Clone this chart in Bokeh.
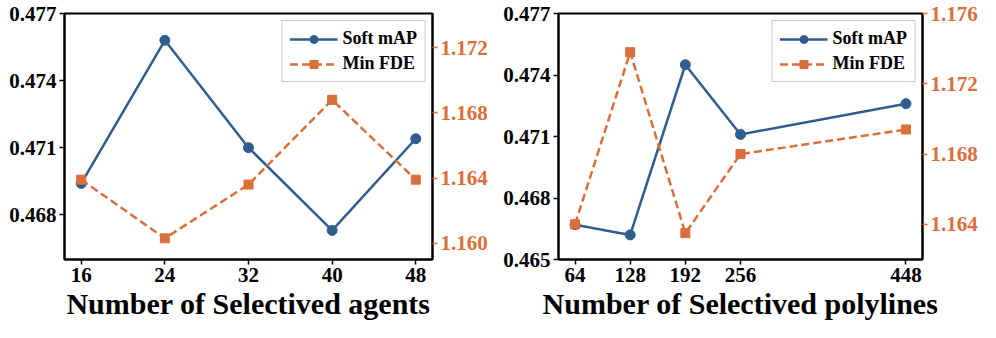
from bokeh.plotting import figure
from bokeh.models import Range1d, LinearAxis, FixedTicker, Legend, LegendItem, PrintfTickFormatter
from bokeh.layouts import row
from bokeh.embed import file_html
from bokeh.resources import INLINE

# ---- data ----
agents = [16, 24, 32, 40, 48]
agents_map = [0.4694, 0.4758, 0.4710, 0.4673, 0.4714]
agents_fde = [1.1639, 1.1603, 1.1636, 1.1688, 1.1639]

polylines = [64, 128, 192, 256, 448]
poly_map = [0.4667, 0.4662, 0.4745, 0.4711, 0.4726]
poly_fde = [1.1640, 1.1738, 1.1635, 1.1680, 1.1694]

agents_xticks = [16, 24, 32, 40, 48]
agents_lticks = [0.468, 0.471, 0.474, 0.477]
agents_rticks = [1.160, 1.164, 1.168, 1.172]
poly_xticks = [64, 128, 192, 256, 448]
poly_lticks = [0.465, 0.468, 0.471, 0.474, 0.477]
poly_rticks = [1.164, 1.168, 1.172, 1.176]

BLUE = "#2F5E8E"
ORANGE = "#D96F3A"
FONT = "Liberation Serif"


def style_axis(ax, color="black", tick_color="black"):
    ax.major_label_text_font = FONT
    ax.major_label_text_font_style = "bold"
    ax.major_label_text_font_size = "21px"
    ax.major_label_text_color = color
    ax.axis_line_color = "black"
    ax.axis_line_width = 2
    ax.major_tick_line_color = tick_color
    ax.major_tick_line_width = 1.5
    ax.major_tick_out = 5
    ax.major_tick_in = 0
    ax.minor_tick_line_color = None
    ax.major_label_standoff = 3


def make_panel(x, ymap, yfde, xr, lr, rr, xticks, lticks, rticks, xlabel,
               w, ml, mr):
    p = figure(width=w, height=322, output_backend="svg",
               toolbar_location=None, x_range=Range1d(*xr), y_range=Range1d(*lr),
               min_border_left=ml, min_border_right=mr, min_border_top=13,
               min_border_bottom=60)
    p.extra_y_ranges = {"fde": Range1d(*rr)}
    p.grid.visible = False
    p.outline_line_color = "black"
    p.outline_line_width = 2
    p.background_fill_color = "white"
    p.border_fill_color = "white"

    p.xaxis.ticker = FixedTicker(ticks=xticks)
    p.yaxis.ticker = FixedTicker(ticks=lticks)
    p.yaxis.formatter = PrintfTickFormatter(format="%.3f")
    style_axis(p.xaxis[0])
    style_axis(p.yaxis[0])
    p.xaxis.axis_label = xlabel
    p.xaxis.axis_label_text_font = FONT
    p.xaxis.axis_label_text_font_style = "bold"
    p.xaxis.axis_label_text_font_size = "30px"
    p.xaxis.axis_label_text_color = "black"
    p.xaxis.axis_label_standoff = 2

    rax = LinearAxis(y_range_name="fde", ticker=FixedTicker(ticks=rticks),
                     formatter=PrintfTickFormatter(format="%.3f"))
    style_axis(rax, color=ORANGE, tick_color=ORANGE)
    p.add_layout(rax, "right")

    l1 = p.line(x, ymap, line_color=BLUE, line_width=2.5)
    s1 = p.scatter(x, ymap, marker="circle", size=10, fill_color=BLUE,
                   line_color=BLUE)
    l2 = p.line(x, yfde, line_color=ORANGE, line_width=2.5, line_dash="8 4",
                y_range_name="fde")
    s2 = p.scatter(x, yfde, marker="square", size=9, fill_color=ORANGE,
                   line_color=ORANGE, y_range_name="fde")

    legend = Legend(items=[LegendItem(label="Soft mAP", renderers=[l1, s1]),
                           LegendItem(label="Min FDE", renderers=[l2, s2])],
                    location="top_right")
    legend.label_text_font = FONT
    legend.label_text_font_style = "bold"
    legend.label_text_font_size = "18px"
    legend.label_text_color = "black"
    legend.glyph_width = 48
    legend.glyph_height = 20
    legend.label_height = 20
    legend.spacing = 4
    legend.padding = 7
    legend.margin = 7
    legend.border_line_color = "#999999"
    legend.border_line_width = 1
    legend.background_fill_alpha = 1
    p.add_layout(legend)
    return p


p1 = make_panel(agents, agents_map, agents_fde, (14.4, 49.6), (0.466, 0.477),
                (1.1590, 1.1741), agents_xticks, agents_lticks, agents_rticks,
                "Number of Selectived agents", 496, 64, 64)
p2 = make_panel(polylines, poly_map, poly_fde, (44.8, 467.2), (0.465, 0.477),
                (1.162, 1.176), poly_xticks, poly_lticks, poly_rticks,
                "Number of Selectived polylines", 484, 62, 56)

layout = row(p1, p2)
open("out.html", "w").write(file_html(layout, INLINE))
